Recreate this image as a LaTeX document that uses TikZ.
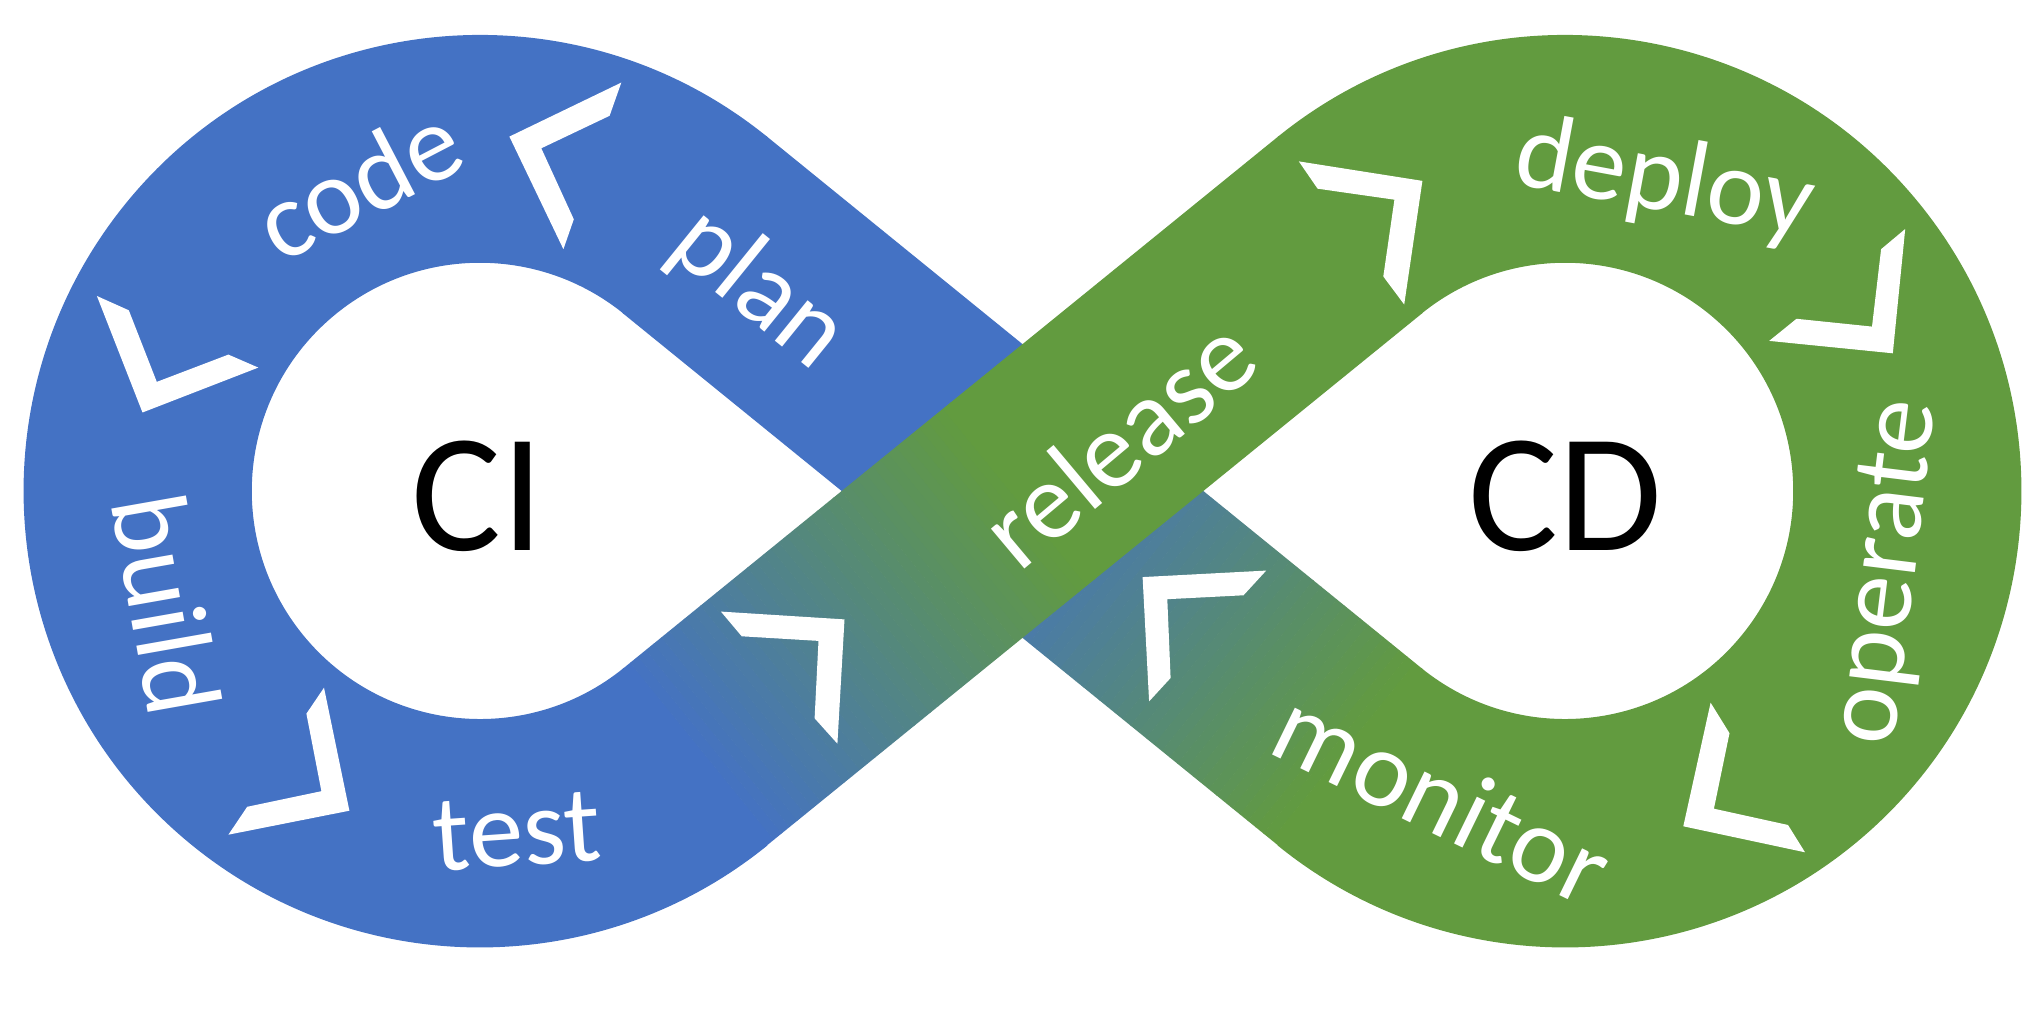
\documentclass[tikz,border=0pt]{standalone}
\usepackage{fontspec}
\setmainfont{Carlito}
\usetikzlibrary{calc}
\definecolor{ciblue}{HTML}{4472C4}
\definecolor{cdgreen}{HTML}{629B3F}

\begin{document}
\begin{tikzpicture}[
    x=0.01cm,y=0.01cm,
    stage/.style={text=white,inner sep=0pt,font=\fontsize{31}{31}\selectfont},
    hub/.style={text=black,inner sep=0pt,font=\fontsize{48}{48}\selectfont},
    chev/.style={fill=white}
]
\useasboundingbox (0,0) rectangle (2039,1012);

% Centres of the loops and the crossing
\coordinate (L) at (480,521);
\coordinate (R) at (1565,521);
\coordinate (X) at (1022.5,521);

% Rings
\fill[ciblue] ($(L)+(50.92:456)$) arc[start angle=50.92,end angle=309.08,radius=4.56cm]
  -- ($(L)+(309.08:228)$) arc[start angle=309.08,end angle=50.92,radius=2.28cm] -- cycle;
\fill[cdgreen] ($(R)+(129.08:456)$) arc[start angle=129.08,end angle=-129.08,radius=4.56cm]
  -- ($(R)+(-129.08:228)$) arc[start angle=-129.08,end angle=129.08,radius=2.28cm] -- cycle;

% Band plan -> monitor (underneath)
\begin{scope}[shift={(X)},rotate=-39.08]
  \fill[ciblue] (-423,-114) rectangle (0.5,114);
  \foreach \i in {0,...,41}{
    \pgfmathtruncatemacro{\p}{100-100*\i/41}
    \fill[ciblue!\p!cdgreen] (\i*10.07,-114) rectangle (\i*10.07+10.5,114);
  }
\end{scope}

% Band test -> deploy (on top)
\begin{scope}[shift={(X)},rotate=39.08]
  \foreach \i in {0,...,41}{
    \pgfmathtruncatemacro{\p}{100-100*\i/41}
    \fill[ciblue!\p!cdgreen] (-423+\i*10.07,-114) rectangle (-423+\i*10.07+10.5,114);
  }
  \fill[cdgreen] (-0.5,-114) rectangle (423,114);
\end{scope}

% Arrow heads, CI loop
\fill[chev] (621.3,929.4) -- (609.6,896.2) -- (541.3,863.7) -- (573.8,792.7) -- (563.4,762.8) -- (509.4,875.4) -- cycle;
\fill[chev] (96.9,716) -- (128.8,701.7) -- (156.8,630.1) -- (228.4,657.4) -- (258.3,644.4) -- (142.5,599.5) -- cycle;
\fill[chev] (324,324.3) -- (306.4,298.3) -- (321.4,220.8) -- (247.2,205.2) -- (228.4,177.3) -- (349.4,201.3) -- cycle;
\fill[chev] (720.9,400.4) -- (741.7,375.7) -- (818.5,371.1) -- (814.6,293.7) -- (837.4,268.3) -- (844.5,392.6) -- cycle;

% Arrow heads, CD loop
\fill[chev] (1298.8,850.6) -- (1317.6,823.3) -- (1394.4,812.3) -- (1383.3,735.5) -- (1404.2,707.5) -- (1422.4,831.1) -- cycle;
\fill[chev] (1905.2,783) -- (1881.1,762.8) -- (1872,685.4) -- (1796.5,693.2) -- (1769.2,671.1) -- (1892.8,658.7) -- cycle;
\fill[chev] (1710.6,309.3) -- (1729.5,278.8) -- (1713.9,203.3) -- (1788,187) -- (1805,159.7) -- (1683.3,185.7) -- cycle;
\fill[chev] (1266.2,441.4) -- (1243.5,416.7) -- (1167.3,412.8) -- (1170.6,334) -- (1149.1,310.6) -- (1142.6,434.9) -- cycle;

% Stages
\node[stage,rotate=27.5] (code) at (358,830) {code};
\node[stage,rotate=-39] (plan) at (758,722.5) {plan};
\node[stage,rotate=-80] (build) at (167,408) {build};
\node[stage,rotate=4] (test) at (517,180.5) {test};
\node[stage,rotate=40] (release) at (1118,570) {release};
\node[stage,rotate=-10.5] (deploy) at (1664.5,830) {deploy};
\node[stage,rotate=83] (operate) at (1889,439.5) {operate};
\node[stage,rotate=-26] (monitor) at (1443,215) {monitor};

% Loop names
\node[hub] (ci) at (478,516) {CI};
\node[hub] (cd) at (1565.5,516) {CD};

\end{tikzpicture}
\end{document}
